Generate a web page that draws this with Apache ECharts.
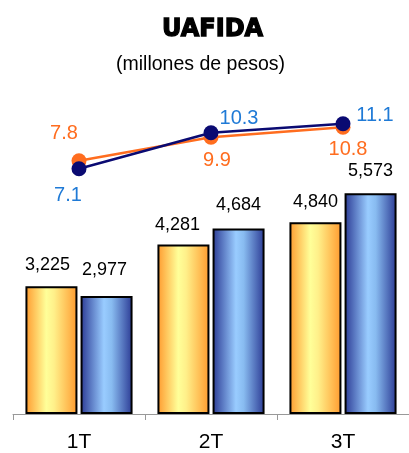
<!DOCTYPE html>
<html><head><meta charset="utf-8">
<script src="https://cdn.jsdelivr.net/npm/echarts@6/dist/echarts.min.js"></script>
<style>html,body{margin:0;padding:0;background:#fff}#c{width:409px;height:453px}</style>
</head><body><div id="c"></div>
<script>
const categories = ['1T', '2T', '3T'];
const barsA = [3225, 4281, 4840];
const barsB = [2977, 4684, 5573];
const lineA = [7.8, 9.9, 10.8];
const lineB = [7.1, 10.3, 11.1];

const labA = [[-4, 12], [-6, 10], [0, 11]];
const labB = [[-2, 17], [0, 14], [0, 13]];
const offLA = [[-15, -27], [6, 23], [5, 22]];
const offLB = [[-11, 27], [28, -14], [32, -8]];

const fmt = v => v.toLocaleString('en-US');
const gradA = {type:'linear',x:0,y:0,x2:1,y2:0,colorStops:[
  {offset:0,color:'#ff9a2e'},{offset:0.4,color:'#ffff99'},{offset:0.55,color:'#fff08a'},{offset:1,color:'#ff9a2e'}]};
const gradB = {type:'linear',x:0,y:0,x2:1,y2:0,colorStops:[
  {offset:0,color:'#2b3a94'},{offset:0.45,color:'#99ccff'},{offset:0.6,color:'#88bbf0'},{offset:1,color:'#2b3a94'}]};

const chart = echarts.init(document.getElementById('c'));
chart.setOption({
  animation:false,
  title:[{text:'UAFIDA',left:157,top:13,textStyle:{fontFamily:'DejaVu Sans',fontWeight:'bold',fontSize:24,color:'#000',textBorderColor:'#000',textBorderWidth:1.3}},
         {text:'(millones de pesos)',left:111,top:50,textStyle:{fontFamily:'Liberation Sans',fontWeight:'normal',fontSize:19.5,color:'#000'}}],
  grid:{left:13,top:18,width:399,height:397},
  xAxis:{type:'category',data:categories,
    axisLine:{lineStyle:{color:'#999',width:1}},
    axisTick:{show:true,length:6,lineStyle:{color:'#999'}},
    axisLabel:{fontFamily:'Liberation Sans',fontSize:21,color:'#000',margin:18}},
  yAxis:[{type:'value',min:0,max:10000,show:false,splitLine:{show:false}},
         {type:'value',min:-14.76,max:20.53,show:false,splitLine:{show:false}}],
  series:[
    {type:'bar',data:barsA.map((v,i)=>({value:v,label:{offset:[labA[i][0],0],distance:labA[i][1]}})),
     barWidth:52,barGap:'6%',
     itemStyle:{color:gradA,borderColor:'#000',borderWidth:2},
     label:{show:true,position:'top',formatter:p=>fmt(p.value),fontFamily:'Liberation Sans',fontSize:18,color:'#000'}},
    {type:'bar',data:barsB.map((v,i)=>({value:v,label:{offset:[labB[i][0],0],distance:labB[i][1]}})),
     barWidth:52,barGap:'6%',
     itemStyle:{color:gradB,borderColor:'#000',borderWidth:2},
     label:{show:true,position:'top',formatter:p=>fmt(p.value),fontFamily:'Liberation Sans',fontSize:18,color:'#000'}},
    {type:'line',yAxisIndex:1,data:lineA.map((v,i)=>({value:v,label:{offset:offLA[i]}})),
     symbol:'circle',symbolSize:15,
     lineStyle:{color:'#ff6d1f',width:2.5},itemStyle:{color:'#ff6d1f'},
     label:{show:true,position:'inside',formatter:p=>p.value.toFixed(1),fontFamily:'Liberation Sans',fontSize:20,color:'#ff6d1f'},z:3},
    {type:'line',yAxisIndex:1,data:lineB.map((v,i)=>({value:v,label:{offset:offLB[i]}})),
     symbol:'circle',symbolSize:15,
     lineStyle:{color:'#0a0a72',width:2.5},itemStyle:{color:'#0a0a72'},
     label:{show:true,position:'inside',formatter:p=>p.value.toFixed(1),fontFamily:'Liberation Sans',fontSize:20,color:'#1f7ad6'},z:4}
  ]
});
</script></body></html>
